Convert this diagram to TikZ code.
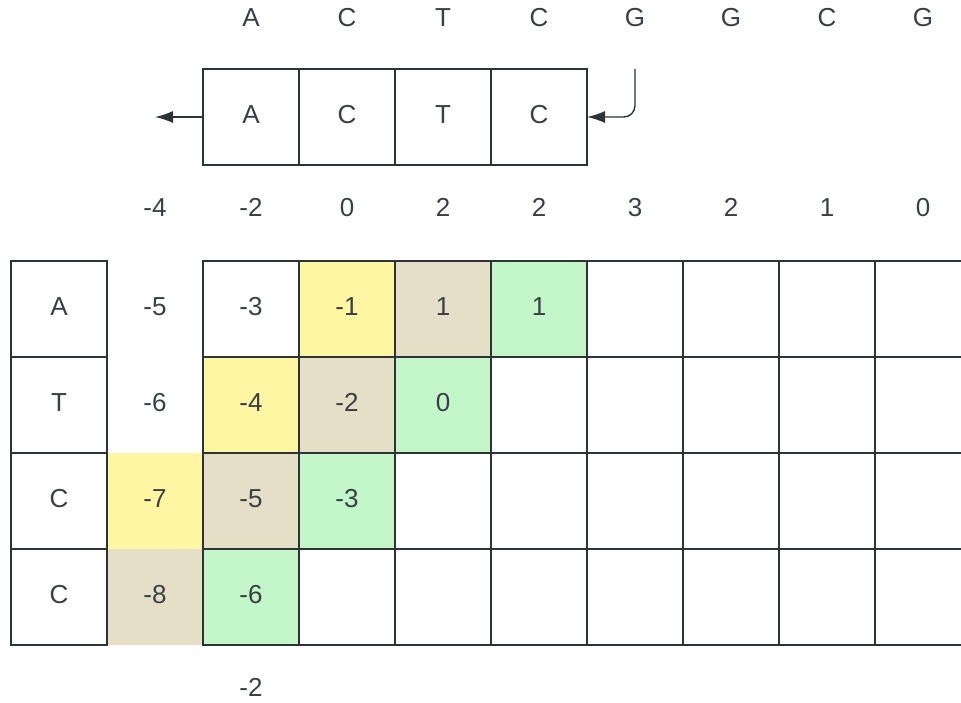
\documentclass[tikz,border=0pt]{standalone}
\usepackage{fontspec}
\setmainfont{Liberation Sans}
\usetikzlibrary{arrows.meta, positioning}
\definecolor{ink}{HTML}{2E3338}
\definecolor{txt}{HTML}{3A3F46}
\definecolor{hlyel}{HTML}{FFF6A3}
\definecolor{hlbei}{HTML}{E6DFC8}
\definecolor{hlgrn}{HTML}{C3F6C8}

\begin{document}
\begin{tikzpicture}[
x=0.025cm, y=-0.025cm,
cell/.style={rectangle, draw=ink, line width=1.8pt, minimum size=2.4cm, inner sep=0pt, outer sep=0pt},
pad/.style={rectangle, minimum size=2.4cm, inner sep=0pt, outer sep=0pt},
lbl/.style={font=\fontsize{18.5}{22}\selectfont, text=txt, inner sep=0pt, text depth=1.25mm},
diag2/.style={fill=white},
diag3/.style={fill=hlyel},
diag4/.style={fill=hlbei},
diag5/.style={fill=hlgrn},
arr/.style={-{Latex[length=4.5mm, width=3mm]}, draw=ink, line width=1pt}
]
\useasboundingbox (0,0) rectangle (961,703);

% sequence along the top
\foreach \s [count=\i] in {A,C,T,C,G,G,C,G}
  \node[lbl] (top\i) at (155+96*\i, 20) {\s};

% sliding window
\foreach \s [count=\i] in {A,C,T,C}
  \node[cell, lbl] (win\i) at (155+96*\i, 117) {\s};
\coordinate (out) at (155,117);
\coordinate (feed) at (635,69);
\draw[arr] (win1.west) -- (out);
\draw[arr, rounded corners=8pt] (feed) |- (win4.east);

% column scores
\foreach \v [count=\i] in {-4,-2,0,2,2,3,2,1,0}
  \node[lbl] (sc\i) at (59+96*\i, 210) {\v};

% left padding column
\node[pad, lbl] (pad1) at (155,309) {-5};
\node[pad, lbl] (pad2) at (155,405) {-6};
\node[pad, lbl, diag3] (pad3) at (155,501) {-7};
\node[pad, lbl, diag4] (pad4) at (155,597) {-8};

% row letters
\foreach \s [count=\j] in {A,T,C,C}
  \node[cell, lbl] (row\j) at (59, 213+96*\j) {\s};

% score matrix
\foreach \j in {1,...,4}
  \foreach \i in {1,...,8}{
    \pgfmathtruncatemacro\d{\i+\j}
    \ifnum\d>5 \def\d{2}\fi
    \node[cell, diag\d] (m\j\i) at (155+96*\i, 213+96*\j) {};
  }
\foreach \j/\i/\v in {1/1/-3, 1/2/-1, 1/3/1, 1/4/1, 2/1/-4, 2/2/-2, 2/3/0, 3/1/-5, 3/2/-3, 4/1/-6}
  \node[lbl] (v\j\i) at (m\j\i) {\v};

\node[lbl] (low) at (251,690) {-2};
\end{tikzpicture}
\end{document}
